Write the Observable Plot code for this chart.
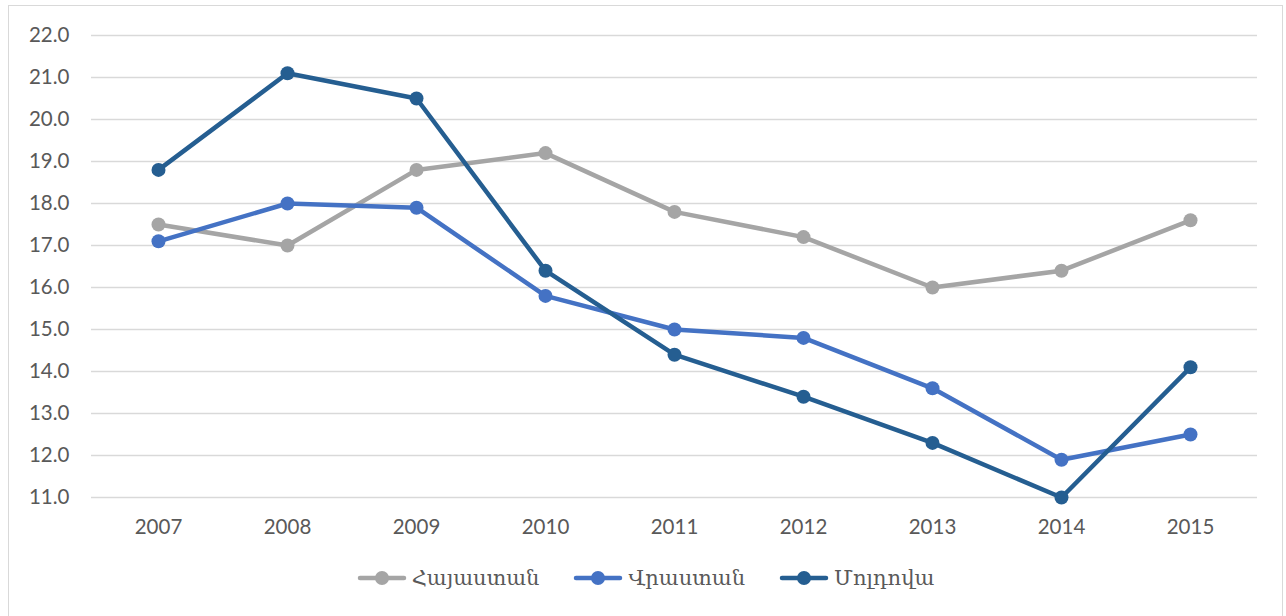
<!DOCTYPE html>
<html>
<head>
<meta charset="utf-8">
<script src="https://cdn.jsdelivr.net/npm/d3@7"></script>
<script src="https://cdn.jsdelivr.net/npm/@observablehq/plot@0.6"></script>
<style>
  html, body { margin: 0; padding: 0; background: #fff; }
  #frame { position: absolute; left: 8px; top: 5px; width: 1275px; height: 640px; border: 1px solid #d9d9d9; box-sizing: border-box; }
  #legend { display: flex; justify-content: center; align-items: center; margin-top: 20px; font-family: "DejaVu Serif", "DejaVu Sans", serif; font-size: 21px; color: #595959; }
  .item { display: flex; align-items: center; margin: 0 17px; }
  .item svg { margin-right: 5px; }
</style>
</head>
<body>
<div id="frame"><div id="chart"></div><div id="legend"></div></div>
<script>
const years = ["2007","2008","2009","2010","2011","2012","2013","2014","2015"];
const seriesNames = ["Հայաստան", "Վրաստան", "Մոլդովա"];
const armenia = [17.5, 17.0, 18.8, 19.2, 17.8, 17.2, 16.0, 16.4, 17.6];
const georgia = [17.1, 18.0, 17.9, 15.8, 15.0, 14.8, 13.6, 11.9, 12.5];
const moldova = [18.8, 21.1, 20.5, 16.4, 14.4, 13.4, 12.3, 11.0, 14.1];
const colors = ["#A5A5A5", "#4472C4", "#255E91"];
const yTicks = [11,12,13,14,15,16,17,18,19,20,21,22];

const seriesValues = [armenia, georgia, moldova];
const data = [];
seriesNames.forEach((s, i) => years.forEach((y, j) => data.push({series: s, year: y, value: seriesValues[i][j]})));

const chart = Plot.plot({
  width: 1273,
  height: 540,
  marginLeft: 82,
  marginRight: 25,
  marginTop: 29,
  marginBottom: 49,
  style: { fontFamily: "Lato, 'Open Sans', sans-serif", fontSize: "20.5px", color: "#595959", background: "#fff" },
  x: { type: "point", domain: years, padding: 0.5, label: null, tickSize: 0, tickPadding: 22 },
  y: { domain: [11, 22], ticks: yTicks, tickFormat: d3.format(".1f"), label: null, tickSize: 0, tickPadding: 22 },
  color: { domain: seriesNames, range: colors },
  marks: [
    Plot.gridY(yTicks, { stroke: "#d9d9d9", strokeOpacity: 1, strokeWidth: 1.5 }),
    Plot.lineY(data, { x: "year", y: "value", stroke: "series", strokeWidth: 4.5, strokeLinejoin: "round", strokeLinecap: "round" }),
    Plot.dot(data, { x: "year", y: "value", fill: "series", r: 7 })
  ]
});
document.getElementById("chart").appendChild(chart);

const legend = document.getElementById("legend");
seriesNames.forEach((s, i) => {
  const item = document.createElement("div");
  item.className = "item";
  item.innerHTML = `<svg width="50" height="16"><line x1="3" y1="8" x2="47" y2="8" stroke="${colors[i]}" stroke-width="4.5" stroke-linecap="round"/><circle cx="25" cy="8" r="7" fill="${colors[i]}"/></svg><span>${s}</span>`;
  legend.appendChild(item);
});
</script>
</body>
</html>
